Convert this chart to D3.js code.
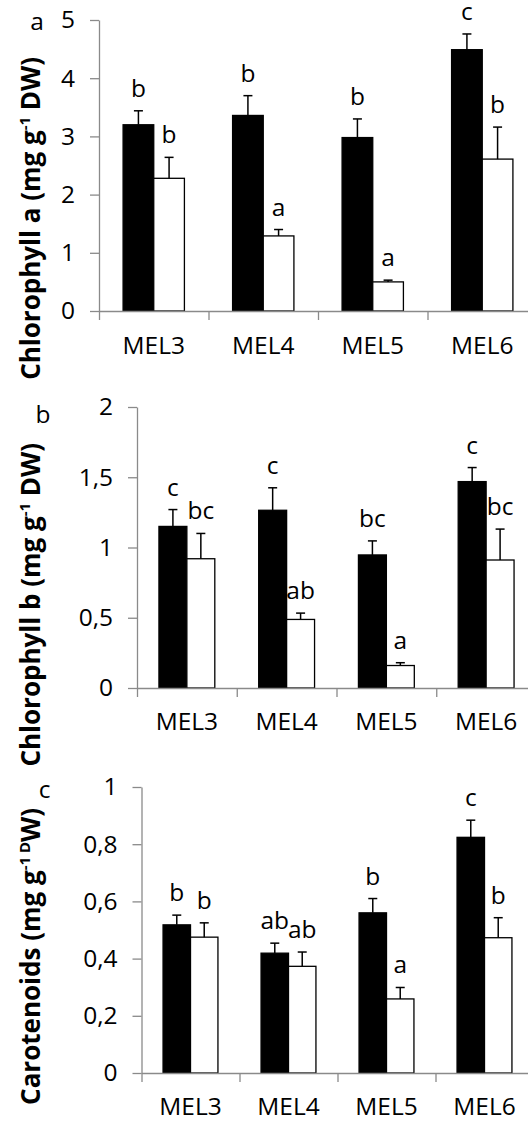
<!DOCTYPE html>
<html>
<head>
<meta charset="utf-8">
<script src="https://cdn.jsdelivr.net/npm/d3@7"></script>
<style>
  html, body { margin: 0; padding: 0; background: #fff; }
  svg { display: block; font-family: "Open Sans", "DejaVu Sans", sans-serif; }
</style>
</head>
<body>
<div id="chart"></div>
<script>
const categories = ["MEL3", "MEL4", "MEL5", "MEL6"];

// chlorophyll a
const chlA_black = [3.20, 3.36, 2.98, 4.49];
const chlA_blackErr = [0.24, 0.34, 0.32, 0.27];
const chlA_white = [2.28, 1.29, 0.50, 2.61];
const chlA_whiteErr = [0.36, 0.11, 0.03, 0.55];
const chlA_blackLetters = ["b", "b", "b", "c"];
const chlA_whiteLetters = ["b", "a", "a", "b"];
const chlA_ticks = [0, 1, 2, 3, 4, 5];

// chlorophyll b
const chlB_black = [1.15, 1.265, 0.947, 1.469];
const chlB_blackErr = [0.12, 0.16, 0.10, 0.10];
const chlB_white = [0.92, 0.488, 0.16, 0.911];
const chlB_whiteErr = [0.18, 0.045, 0.02, 0.22];
const chlB_blackLetters = ["c", "c", "bc", "c"];
const chlB_whiteLetters = ["bc", "ab", "a", "bc"];
const chlB_ticks = [0, 0.5, 1, 1.5, 2];

// carotenoids
const car_black = [0.518, 0.419, 0.560, 0.824];
const car_blackErr = [0.034, 0.035, 0.05, 0.06];
const car_white = [0.475, 0.373, 0.259, 0.473];
const car_whiteErr = [0.05, 0.05, 0.04, 0.07];
const car_blackLetters = ["b", "ab", "b", "c"];
const car_whiteLetters = ["b", "ab", "a", "b"];
const car_ticks = [0, 0.2, 0.4, 0.6, 0.8, 1];

const W = 528, H = 1126;
const axisGrey = "#8a8a8a";
const fs = "24.5px";

const svg = d3.select("#chart").append("svg")
  .attr("width", W).attr("height", H);

const panels = [
  {tag: "a", ticks: chlA_ticks, black: chlA_black, blackErr: chlA_blackErr, white: chlA_white, whiteErr: chlA_whiteErr,
   bl: chlA_blackLetters, wl: chlA_whiteLetters,
   title: ["Chlorophyll a (mg g", "-1", " DW)"],
   ax: 99, top: 20, bottom: 311, cat: 109.5, labelY: 354, tagX: 37, tagY: 30, titleEnd: 57},
  {tag: "b", ticks: chlB_ticks, black: chlB_black, blackErr: chlB_blackErr, white: chlB_white, whiteErr: chlB_whiteErr,
   bl: chlB_blackLetters, wl: chlB_whiteLetters,
   title: ["Chlorophyll b (mg g", "-1", " DW)"],
   ax: 137, top: 407, bottom: 688, cat: 99.75, labelY: 730, tagX: 43, tagY: 423, titleEnd: 443},
  {tag: "c", ticks: car_ticks, black: car_black, blackErr: car_blackErr, white: car_white, whiteErr: car_whiteErr,
   bl: car_blackLetters, wl: car_whiteLetters,
   title: ["Carotenoids (mg g", "-1 D", "W)"],
   ax: 141.5, top: 787, bottom: 1073, cat: 98, labelY: 1115, tagX: 44.5, tagY: 798, titleEnd: 808}
];

const fmt = d => String(d).replace(".", ",");

panels.forEach(p => {
  const g = svg.append("g");
  const y = d3.scaleLinear().domain([p.ticks[0], p.ticks[p.ticks.length - 1]]).range([p.bottom, p.top]);
  const x0 = d3.scaleBand().domain(categories).range([p.ax, p.ax + p.cat * categories.length]);
  const bw = p.cat * 0.28;
  const x1 = d3.scaleBand().domain(["black", "white"]).range([-bw, bw]);
  const xb = d3.scaleLinear().domain([0, categories.length]).range([p.ax, p.ax + p.cat * categories.length]);

  const rows = categories.map((c, i) => [
    {cat: c, s: "black", v: p.black[i], e: p.blackErr[i], l: p.bl[i]},
    {cat: c, s: "white", v: p.white[i], e: p.whiteErr[i], l: p.wl[i]}
  ]).flat();

  // y axis
  const yAxis = g.append("g").attr("transform", `translate(${p.ax},0)`)
    .call(d3.axisLeft(y).tickValues(p.ticks).tickSize(9).tickSizeOuter(0).tickPadding(15).tickFormat(fmt));
  yAxis.attr("font-size", null).attr("font-family", null);
  yAxis.select(".domain").attr("stroke", axisGrey).attr("stroke-width", 1.3);
  yAxis.selectAll(".tick line").attr("stroke", axisGrey).attr("stroke-width", 1.3);
  yAxis.selectAll(".tick text").attr("fill", "#000").style("font-size", fs);

  // bars
  g.selectAll("rect.bar").data(rows).join("rect")
    .attr("x", d => x0(d.cat) + x0.bandwidth() / 2 + x1(d.s))
    .attr("y", d => y(d.v))
    .attr("width", x1.bandwidth())
    .attr("height", d => y(0) - y(d.v))
    .attr("fill", d => d.s === "black" ? "#000" : "#fff")
    .attr("stroke", "#000").attr("stroke-width", 1.3);

  // error bars (upper only)
  const cx = d => x0(d.cat) + x0.bandwidth() / 2 + x1(d.s) + x1.bandwidth() / 2;
  g.selectAll("line.err").data(rows).join("line")
    .attr("x1", cx).attr("x2", cx)
    .attr("y1", d => y(d.v)).attr("y2", d => y(d.v + d.e))
    .attr("stroke", "#000").attr("stroke-width", 1.5);
  g.selectAll("line.cap").data(rows).join("line")
    .attr("x1", d => cx(d) - 4.5).attr("x2", d => cx(d) + 4.5)
    .attr("y1", d => y(d.v + d.e)).attr("y2", d => y(d.v + d.e))
    .attr("stroke", "#000").attr("stroke-width", 1.5);

  // significance letters
  g.selectAll("text.letter").data(rows).join("text")
    .attr("x", cx).attr("y", d => y(d.v + d.e) - 14)
    .attr("text-anchor", "middle").style("font-size", fs).text(d => d.l);

  // x axis: line with boundary ticks
  const xAxis = g.append("g").attr("transform", `translate(0,${p.bottom})`)
    .call(d3.axisBottom(xb).tickValues(d3.range(categories.length + 1)).tickSize(9).tickSizeOuter(0).tickFormat(""));
  xAxis.select(".domain").attr("stroke", axisGrey).attr("stroke-width", 1.3);
  xAxis.selectAll(".tick line").attr("stroke", axisGrey).attr("stroke-width", 1.3);

  g.selectAll("text.cat").data(categories).join("text")
    .attr("x", d => x0(d) + x0.bandwidth() / 2).attr("y", p.labelY)
    .attr("text-anchor", "middle").style("font-size", fs).text(d => d);

  // panel tag
  g.append("text").attr("x", p.tagX).attr("y", p.tagY).attr("text-anchor", "middle")
    .style("font-size", fs).text(p.tag);

  // y title
  const t = g.append("text").attr("transform", `translate(40,${p.titleEnd}) rotate(-90)`)
    .attr("text-anchor", "end").style("font-size", "26px").style("font-weight", "bold");
  t.append("tspan").text(p.title[0]);
  t.append("tspan").attr("dy", -10).style("font-size", "15px").text(p.title[1]);
  t.append("tspan").attr("dy", 10).text(p.title[2]);
});
</script>
</body>
</html>
